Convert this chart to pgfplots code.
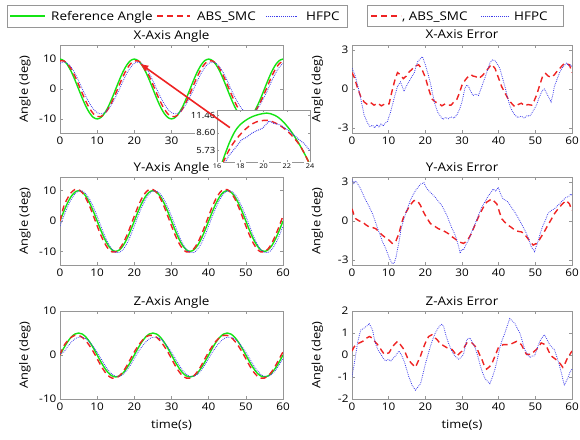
\documentclass[border=0pt]{standalone}
\usepackage{pgfplots}
\usepackage{pgfplotstable}
\pgfplotsset{compat=1.18}
\usetikzlibrary{arrows.meta}
\usepackage{fontspec}
\setmainfont{Open Sans}[FakeStretch=1.12]

\definecolor{refgreen}{RGB}{20,228,20}
\definecolor{smcred}{RGB}{238,35,35}
\definecolor{hfpcblue}{RGB}{60,60,235}
\definecolor{boxgray}{RGB}{150,150,150}

% Tracking angles (deg), sampled every second
\pgfplotstableread{
t ref smc hfpc
0 10 9.39 8.56
1 9.51 9.39 9.00
2 8.09 8.46 8.56
3 5.88 6.72 7.28
4 3.09 4.31 5.29
5 0 1.48 2.78
6 -3.09 -1.45 0
7 -5.88 -4.22 -2.56
8 -8.09 -6.58 -4.88
9 -9.51 -8.29 -6.71
10 -10 -9.19 -7.89
11 -9.51 -9.19 -8.30
12 -8.09 -8.29 -7.89
13 -5.88 -6.58 -6.71
14 -3.09 -4.22 -4.88
15 0 -1.45 -2.56
16 3.09 1.48 0
17 5.88 4.31 2.78
18 8.09 6.72 5.29
19 9.51 8.46 7.28
20 10 9.39 8.56
21 9.51 9.39 9.00
22 8.09 8.46 8.56
23 5.88 6.72 7.28
24 3.09 4.31 5.29
25 0 1.48 2.78
26 -3.09 -1.45 0
27 -5.88 -4.22 -2.56
28 -8.09 -6.58 -4.88
29 -9.51 -8.29 -6.71
30 -10 -9.19 -7.89
31 -9.51 -9.19 -8.30
32 -8.09 -8.29 -7.89
33 -5.88 -6.58 -6.71
34 -3.09 -4.22 -4.88
35 0 -1.45 -2.56
36 3.09 1.48 0
37 5.88 4.31 2.78
38 8.09 6.72 5.29
39 9.51 8.46 7.28
40 10 9.39 8.56
41 9.51 9.39 9.00
42 8.09 8.46 8.56
43 5.88 6.72 7.28
44 3.09 4.31 5.29
45 0 1.48 2.78
46 -3.09 -1.45 0
47 -5.88 -4.22 -2.56
48 -8.09 -6.58 -4.88
49 -9.51 -8.29 -6.71
50 -10 -9.19 -7.89
51 -9.51 -9.19 -8.30
52 -8.09 -8.29 -7.89
53 -5.88 -6.58 -6.71
54 -3.09 -4.22 -4.88
55 0 -1.45 -2.56
56 3.09 1.48 0
57 5.88 4.31 2.78
58 8.09 6.72 5.29
59 9.51 8.46 7.28
60 10 9.39 8.56
}\xang

\pgfplotstableread{
t ref smc hfpc
0 0 0 -1.64
1 3.09 4.77 1.56
2 5.88 7.42 4.54
3 8.09 9.36 7.07
4 9.51 10.37 8.91
5 10 10.37 9.88
6 9.51 9.36 9.88
7 8.09 7.42 8.91
8 5.88 4.77 7.07
9 3.09 1.64 4.54
10 0 -1.61 1.56
11 -3.09 -4.68 -1.64
12 -5.88 -7.28 -4.77
13 -8.09 -9.18 -7.42
14 -9.51 -10.18 -9.36
15 -10 -10.18 -10.37
16 -9.51 -9.18 -10.37
17 -8.09 -7.28 -9.36
18 -5.88 -4.68 -7.42
19 -3.09 -1.61 -4.77
20 0 1.64 -1.64
21 3.09 4.77 1.56
22 5.88 7.42 4.54
23 8.09 9.36 7.07
24 9.51 10.37 8.91
25 10 10.37 9.88
26 9.51 9.36 9.88
27 8.09 7.42 8.91
28 5.88 4.77 7.07
29 3.09 1.64 4.54
30 0 -1.61 1.56
31 -3.09 -4.68 -1.64
32 -5.88 -7.28 -4.77
33 -8.09 -9.18 -7.42
34 -9.51 -10.18 -9.36
35 -10 -10.18 -10.37
36 -9.51 -9.18 -10.37
37 -8.09 -7.28 -9.36
38 -5.88 -4.68 -7.42
39 -3.09 -1.61 -4.77
40 0 1.64 -1.64
41 3.09 4.77 1.56
42 5.88 7.42 4.54
43 8.09 9.36 7.07
44 9.51 10.37 8.91
45 10 10.37 9.88
46 9.51 9.36 9.88
47 8.09 7.42 8.91
48 5.88 4.77 7.07
49 3.09 1.64 4.54
50 0 -1.61 1.56
51 -3.09 -4.68 -1.64
52 -5.88 -7.28 -4.77
53 -8.09 -9.18 -7.42
54 -9.51 -10.18 -9.36
55 -10 -10.18 -10.37
56 -9.51 -9.18 -10.37
57 -8.09 -7.28 -9.36
58 -5.88 -4.68 -7.42
59 -3.09 -1.61 -4.77
60 0 1.64 -1.64
}\yang

\pgfplotstableread{
t ref smc hfpc
0 0 0 0.3
1 1.55 2.04 0.64
2 2.94 3.18 1.86
3 4.05 4.01 2.90
4 4.76 4.45 3.65
5 5 4.45 4.05
6 4.76 4.01 4.05
7 4.05 3.18 3.65
8 2.94 2.04 2.90
9 1.55 0.70 1.86
10 0 -0.83 0.64
11 -1.55 -2.41 -0.76
12 -2.94 -3.75 -2.22
13 -4.05 -4.72 -3.46
14 -4.76 -5.24 -4.37
15 -5 -5.24 -4.84
16 -4.76 -4.72 -4.84
17 -4.05 -3.75 -4.37
18 -2.94 -2.41 -3.46
19 -1.55 -0.83 -2.22
20 0 0.70 -0.76
21 1.55 2.04 0.64
22 2.94 3.18 1.86
23 4.05 4.01 2.90
24 4.76 4.45 3.65
25 5 4.45 4.05
26 4.76 4.01 4.05
27 4.05 3.18 3.65
28 2.94 2.04 2.90
29 1.55 0.70 1.86
30 0 -0.83 0.64
31 -1.55 -2.41 -0.76
32 -2.94 -3.75 -2.22
33 -4.05 -4.72 -3.46
34 -4.76 -5.24 -4.37
35 -5 -5.24 -4.84
36 -4.76 -4.72 -4.84
37 -4.05 -3.75 -4.37
38 -2.94 -2.41 -3.46
39 -1.55 -0.83 -2.22
40 0 0.70 -0.76
41 1.55 2.04 0.64
42 2.94 3.18 1.86
43 4.05 4.01 2.90
44 4.76 4.45 3.65
45 5 4.45 4.05
46 4.76 4.01 4.05
47 4.05 3.18 3.65
48 2.94 2.04 2.90
49 1.55 0.70 1.86
50 0 -0.83 0.64
51 -1.55 -2.41 -0.76
52 -2.94 -3.75 -2.22
53 -4.05 -4.72 -3.46
54 -4.76 -5.24 -4.37
55 -5 -5.24 -4.84
56 -4.76 -4.72 -4.84
57 -4.05 -3.75 -4.37
58 -2.94 -2.41 -3.46
59 -1.55 -0.83 -2.22
60 0 0.70 -0.76
}\zang

\tikzset{
  refline/.style={draw=refgreen, color=refgreen, line width=1.4pt},
  smcline/.style={draw=smcred, color=smcred, line width=1.4pt, dash pattern=on 6pt off 4pt},
  hfpcline/.style={draw=hfpcblue, color=hfpcblue, line width=0.8pt, dash pattern=on 0.8pt off 1.1pt},
  legtext/.style={anchor=base west, inner sep=0pt, font=\fontsize{12}{14}\selectfont},
}

\pgfplotsset{
  panel/.style={
    scale only axis, width=223pt, height=88pt,
    xmin=0, xmax=60, xtick={0,10,...,60},
    axis line style={boxgray}, tick style={boxgray, line width=0.4pt},
    major tick length=3pt, tick align=inside,
    /pgf/number format/assume math mode=true,
    tick label style={font=\fontsize{10.5}{12}\selectfont},
    title style={font=\fontsize{12}{14}\selectfont, at={(0.5,1)}, anchor=base, yshift=0pt},
    label style={font=\fontsize{11.5}{13}\selectfont},
    ylabel={Angle (deg)},
    y label style={at={(axis description cs:-0.157,0.5)}, anchor=center},
    x label style={at={(axis description cs:0.5,-0.30)}, anchor=center},
  },
  rpanel/.style={panel, width=220pt},
}

\begin{document}
\begin{tikzpicture}
\useasboundingbox (0,0) rectangle (580pt,-439pt);

% ---- legend frames and line samples ----
\draw[boxgray, line width=0.5pt, fill=white] (7pt,-5pt) rectangle (347pt,-27pt);
\draw[boxgray, line width=0.5pt, fill=white] (367pt,-5pt) rectangle (563pt,-26pt);
\draw[draw=refgreen, line width=1.4pt] (10pt,-16pt) -- (45pt,-16pt);
\draw[draw=smcred, line width=1.4pt, dash pattern=on 6pt off 4pt] (157pt,-16pt) -- (190pt,-16pt);
\draw[draw=hfpcblue, line width=0.8pt, dash pattern=on 0.8pt off 1.1pt] (266pt,-16pt) -- (298pt,-16pt);
\draw[draw=smcred, line width=1.4pt, dash pattern=on 6pt off 4pt] (371pt,-16pt) -- (401pt,-16pt);
\draw[draw=hfpcblue, line width=0.8pt, dash pattern=on 0.8pt off 1.1pt] (481pt,-16pt) -- (508pt,-16pt);

% ---- X axis angle ----
\begin{axis}[panel, at={(60pt,-45pt)}, anchor=north west,
  ymin=-14.7, ymax=14.7, ytick={-10,0,10},
  xticklabels={0,10,20,30,,,},
  title={X-Axis Angle}]
\addplot[refline, smooth, tension=0.5] table[x=t,y=ref]{\xang};
\addplot[smcline, smooth, tension=0.5] table[x=t,y=smc]{\xang};
\addplot[hfpcline, smooth, tension=0.5] table[x=t,y=hfpc]{\xang};
\coordinate (arrhead) at (axis cs:21.4,8.6);
\coordinate (arrtail) at (axis cs:45.7,-12.9);
\end{axis}

% ---- zoomed view of the peak near t = 20 s ----
\begin{axis}[at={(217pt,-110pt)}, anchor=north west,
  scale only axis, width=93pt, height=52pt,
  xmin=16, xmax=24, ymin=3.8, ymax=12.3,
  xtick={16,18,...,24}, ytick={5.73,8.60,11.46},
  yticklabels={5.73,8.60,11.46},
  axis line style={boxgray}, tick style={boxgray},
  major tick length=2pt, tick align=inside,
  axis background/.style={fill=white},
  /pgf/number format/assume math mode=true,
  yticklabel style={font=\fontsize{8.5}{9}\selectfont, fill=white, inner sep=1.5pt},
  xticklabel style={font=\fontsize{6.5}{7}\selectfont, fill=white, inner sep=1.5pt}]
\addplot[refline, smooth, tension=0.6] coordinates {
(16.4,3.5)(17.1,7.1)(17.8,9.5)(18.8,11.0)(19.9,11.7)(20.6,11.7)(21.4,10.9)(22.3,9.0)(23.2,6.3)(24.0,3.4)};
\addplot[smcline, smooth, tension=0.6] coordinates {
(16.5,3.6)(17.2,6.3)(18.1,8.5)(19.0,10.0)(19.7,10.5)(20.4,10.6)(21.1,10.1)(21.7,9.4)(22.4,8.2)(23.2,6.3)(23.9,3.7)};
\addplot[hfpcline, line width=1pt] coordinates {
(16.7,3.7)(17.0,4.8)(17.4,5.7)(17.7,6.4)(18.1,7.4)(18.5,7.8)(19.0,8.5)(19.4,8.9)(19.9,9.3)(20.2,9.9)(20.5,10.5)(20.9,10.1)(21.2,10.0)(21.5,9.8)(21.8,9.4)(22.1,9.0)(22.5,8.4)(22.8,7.9)(23.1,7.4)(23.5,6.8)(23.8,6.1)(24.0,5.6)};
\end{axis}

\draw[smcred, line width=1.6pt, -{Latex[length=9pt,width=7pt]}] (arrtail) -- (arrhead);

% ---- X axis error ----
\begin{axis}[rpanel, at={(352pt,-45pt)}, anchor=north west,
  ymin=-3.4, ymax=3.4, ytick={-3,0,3},
  title={X-Axis Error}]
\addplot[smcline] coordinates {
(0,1.27)(0.6,0.9)(1.5,0.1)(2.4,-0.6)(3.3,-1.0)(4.2,-1.2)(5.1,-1.05)(6,-1.25)(7,-1.1)(8,-1.3)(9,-1.15)(10.1,-1.15)(10.8,-0.3)(11.6,0.6)(12.4,1.27)(13.2,1.1)(14,0.8)(14.8,1.0)(15.5,1.3)(16.3,1.5)(17,1.75)(18.2,1.87)(19.1,1.5)(20,0.9)(20.9,0.0)(21.8,-0.77)(22.7,-1.0)(23.6,-1.1)(24.5,-1.3)(25.4,-1.15)(26.3,-1.25)(27,-1.25)(27.8,-1.0)(28.6,-0.8)(29.3,-0.3)(30,0.3)(30.9,0.7)(31.8,1.0)(32.5,1.1)(33,1.0)(33.8,0.95)(34.5,0.8)(35.4,1.0)(36.3,1.27)(37.2,1.6)(38,1.9)(39,1.6)(39.9,0.9)(40.8,0.2)(41.7,-0.3)(42.6,-0.77)(43.5,-1.1)(44.4,-1.37)(45.3,-1.2)(46.2,-1.1)(47.1,-1.3)(48,-1.2)(49,-1.25)(49.7,-0.9)(50.3,-0.5)(51.2,0.3)(52,1.0)(52.8,1.2)(53.5,1.0)(54.3,0.9)(55.2,1.1)(56,1.4)(57,1.7)(58,2.0)(59.3,1.87)(60,1.27)};
\addplot[hfpcline] coordinates {
(0,1.6)(0.5,1.3)(1,0.9)(1.7,0.1)(2.4,-0.77)(3.3,-2.0)(4.2,-2.6)(4.9,-2.9)(5.6,-2.8)(6.2,-3.0)(6.8,-2.75)(7.4,-2.95)(7.9,-2.7)(8.5,-2.85)(9.2,-2.6)(9.7,-2.5)(10,-2.2)(10.5,-1.8)(11,-1.25)(11.7,-0.5)(12.4,0.2)(13.2,0.55)(13.7,0.2)(14.2,-0.2)(14.6,0.1)(15,0.3)(16,0.8)(17,1.27)(17.5,1.8)(17.9,2.1)(18.5,2.3)(19.2,2.5)(19.6,2.2)(20,1.87)(20.7,1.2)(21.4,0.43)(22,-0.4)(22.7,-1.25)(23.4,-1.8)(24.1,-2.1)(24.8,-2.35)(25.5,-2.2)(26.3,-2.3)(27,-2.15)(27.8,-2.25)(28.6,-2.0)(29.3,-1.6)(30,-1.0)(30.8,0.07)(31.3,0.3)(31.8,0.2)(32.4,-0.2)(33,-0.5)(33.7,-0.4)(34.5,-0.5)(35.4,0.2)(36.3,0.9)(37,1.5)(37.6,2.0)(38.3,2.25)(39,2.2)(39.7,1.9)(40.3,1.6)(41,0.9)(41.7,0.2)(42.3,-0.5)(43,-1.25)(43.7,-1.7)(44.4,-2.0)(45.2,-2.2)(46.2,-2.1)(47,-2.25)(47.8,-2.05)(48.5,-2.1)(49.4,-1.7)(50.3,-1.25)(51,-0.7)(51.6,-0.3)(52.1,-0.05)(52.5,0.0)(53.2,-0.4)(53.9,-0.77)(54.3,-1.0)(54.8,-0.4)(55.2,0.2)(56,0.8)(56.6,1.27)(57.5,1.7)(58.5,2.0)(59.1,1.8)(59.7,1.87)(60,1.7)};
\end{axis}

% ---- Y axis angle ----
\begin{axis}[panel, at={(60pt,-177pt)}, anchor=north west,
  ymin=-14.5, ymax=14.5, ytick={-10,0,10},
  title={Y-Axis Angle}]
\addplot[refline, smooth, tension=0.5] table[x=t,y=ref]{\yang};
\addplot[smcline, smooth, tension=0.5] table[x=t,y=smc]{\yang};
\addplot[hfpcline, smooth, tension=0.5] table[x=t,y=hfpc]{\yang};
\end{axis}

% ---- Y axis error ----
\begin{axis}[rpanel, at={(352pt,-177pt)}, anchor=north west,
  ymin=-3.4, ymax=3.4, ytick={-3,0,3},
  title={Y-Axis Error}]
\addplot[smcline] coordinates {
(0,0.94)(0.5,0.5)(1,0.18)(2,0.0)(2.9,-0.08)(3.8,-0.3)(4.7,-0.46)(5.6,-0.5)(6.5,-0.6)(7.4,-0.85)(8.3,-1.1)(9.2,-1.3)(10.1,-1.48)(11,-1.73)(11.9,-1.6)(12.8,-0.97)(13.5,-0.2)(14.2,0.43)(15,0.8)(15.5,1.07)(16.2,1.35)(16.9,1.58)(17.8,1.58)(18.7,1.2)(19.3,0.8)(20,0.43)(20.7,0.1)(21.4,-0.2)(22.5,-0.4)(23.6,-0.6)(24.5,-0.7)(25.5,-0.84)(26.4,-1.0)(27.3,-1.22)(28.2,-1.4)(29.1,-1.6)(30.4,-1.73)(31.1,-1.6)(31.8,-1.35)(32.5,-1.0)(33.1,-0.6)(34,0.0)(34.9,0.56)(35.8,1.05)(36.7,1.45)(38.1,1.7)(39.5,1.32)(40.1,0.8)(40.8,0.18)(41.7,-0.1)(42.6,-0.33)(43.5,-0.5)(44.4,-0.71)(45.3,-0.8)(46.2,-0.84)(47,-1.0)(47.6,-1.22)(48.5,-1.55)(49.4,-1.86)(50.3,-1.73)(51,-1.5)(51.6,-1.22)(52.5,-0.8)(53.4,-0.33)(54.3,0.1)(55.2,0.56)(56.1,0.9)(57,1.2)(57.7,1.4)(58.4,1.58)(59.3,1.32)(60,0.81)};
\addplot[hfpcline] coordinates {
(0,3.2)(0.5,2.9)(1,3.1)(1.7,2.8)(2.4,2.47)(3.1,2.0)(3.8,1.58)(4.7,1.1)(5.6,0.56)(6.3,0.0)(7,-0.6)(7.7,-1.1)(8.3,-1.6)(9,-2.0)(9.7,-2.5)(10.2,-2.9)(10.6,-3.1)(11,-3.3)(11.5,-3.25)(12,-2.8)(12.4,-2.2)(12.9,-1.5)(13.3,-0.7)(14,0.0)(14.6,0.56)(15.3,1.1)(15.9,1.58)(16.6,2.0)(17.3,2.34)(18,2.6)(18.7,2.85)(19.2,2.9)(19.6,2.98)(20.2,2.6)(20.9,2.34)(21.8,2.1)(22.7,1.83)(23.6,1.5)(24.5,1.2)(25.2,0.8)(25.9,0.43)(26.6,-0.1)(27.3,-0.6)(28,-1.0)(28.6,-1.48)(29.1,-2.0)(29.5,-2.5)(29.9,-2.2)(30.4,-2.24)(31.1,-1.8)(31.8,-1.48)(32.7,-0.8)(33.6,-0.2)(34.5,0.45)(35.4,1.07)(36.3,1.5)(37.2,1.96)(37.9,2.2)(38.5,2.47)(39.2,2.3)(39.9,2.6)(40.5,2.1)(41.2,1.7)(41.9,1.6)(42.6,1.45)(43.5,1.05)(44.4,0.69)(45.3,0.25)(46.2,-0.2)(46.9,-0.6)(47.6,-0.97)(48.3,-1.5)(48.9,-2.0)(49.4,-2.2)(49.8,-2.37)(50.2,-2.0)(50.7,-1.6)(51.4,-0.9)(52.1,-0.33)(52.8,0.1)(53.4,0.56)(54.3,0.8)(55.2,0.94)(56.1,1.2)(57,1.45)(57.7,1.65)(58.4,1.83)(59.1,1.9)(59.7,2.08)(60,2.0)};
\end{axis}

% ---- Z axis angle ----
\begin{axis}[panel, at={(60pt,-311pt)}, anchor=north west,
  ymin=-10, ymax=10, ytick={-10,0,10},
  title={Z-Axis Angle}, xlabel={time(s)}]
\addplot[refline, smooth, tension=0.5] table[x=t,y=ref]{\zang};
\addplot[smcline, smooth, tension=0.5] table[x=t,y=smc]{\zang};
\addplot[hfpcline, smooth, tension=0.5] table[x=t,y=hfpc]{\zang};
\end{axis}

% ---- Z axis error ----
\begin{axis}[rpanel, at={(352pt,-311pt)}, anchor=north west,
  ymin=-2, ymax=2, ytick={-2,-1,0,1,2},
  title={Z-Axis Error}, xlabel={time(s)}]
\addplot[smcline] coordinates {
(0,0.18)(0.5,0.35)(1.1,0.47)(2,0.55)(2.9,0.62)(3.8,0.75)(4.7,0.84)(5.6,0.77)(6.3,0.6)(7,0.47)(7.9,0.25)(8.8,0.03)(10.1,0.1)(10.8,0.3)(11.5,0.47)(12.4,0.62)(13.2,0.47)(14.2,0.25)(15.1,-0.12)(15.8,-0.3)(16.4,-0.41)(17.3,-0.56)(18,-0.3)(18.7,-0.04)(19.3,0.25)(20,0.55)(20.9,0.84)(21.8,0.92)(22.5,0.8)(23.2,0.7)(23.9,0.55)(24.5,0.47)(25.2,0.4)(25.9,0.33)(27.3,0.25)(28,0.1)(28.6,-0.04)(30,0.18)(30.6,0.35)(31.3,0.55)(32.7,0.55)(33.3,0.45)(34,0.33)(34.7,0.05)(35.4,-0.19)(36,-0.45)(36.7,-0.64)(37.4,-0.55)(38.1,-0.41)(39,-0.05)(39.9,0.33)(41.2,0.47)(43,0.47)(44,0.55)(44.9,0.62)(45.5,0.55)(46.2,0.47)(47,0.2)(47.6,0.03)(48.9,0.03)(49.6,0.15)(50.3,0.25)(51,0.4)(51.6,0.55)(52.3,0.5)(53,0.4)(53.7,0.15)(54.3,-0.04)(55.2,-0.15)(56.1,-0.27)(56.8,-0.4)(57.5,-0.56)(58.2,-0.35)(58.8,-0.12)(59.5,0.05)(60,0.18)};
\addplot[hfpcline] coordinates {
(0,-1.0)(0.3,-0.7)(0.6,-0.41)(1,0.0)(1.5,0.55)(2,0.9)(2.4,1.14)(3.1,1.2)(3.8,1.29)(4.3,1.35)(4.7,1.44)(5.1,1.3)(5.6,1.14)(6,0.8)(6.5,0.47)(7.2,0.2)(7.9,0.03)(8.5,-0.15)(9.2,-0.27)(9.9,-0.2)(10.6,-0.27)(11.2,-0.15)(11.9,-0.04)(12.4,0.1)(12.8,0.18)(13.5,0.0)(14.2,-0.27)(14.9,-0.65)(15.5,-1.0)(16,-1.2)(16.4,-1.38)(16.9,-1.5)(17.3,-1.6)(18,-1.45)(18.7,-1.3)(19.3,-0.9)(20,-0.41)(20.7,0.0)(21.4,0.4)(22,0.7)(22.7,1.0)(23.4,1.2)(24.1,1.36)(24.6,1.4)(25,1.29)(25.6,0.9)(26.3,0.55)(27,0.25)(27.7,0.03)(28.4,-0.1)(29.1,-0.19)(29.8,-0.1)(30.4,0.03)(30.9,0.4)(31.3,0.7)(31.8,0.75)(32.2,0.77)(32.9,0.55)(33.6,0.33)(34.3,-0.05)(35,-0.49)(35.6,-0.8)(36.3,-1.08)(37,-1.2)(37.6,-1.3)(38.3,-1.0)(39,-0.64)(39.7,-0.15)(40.3,0.33)(41,0.7)(41.7,1.0)(42.3,1.3)(43,1.66)(43.7,1.55)(44.4,1.44)(45.1,1.2)(45.8,1.0)(46.5,0.6)(47.1,0.25)(47.8,0.05)(48.5,-0.12)(49.1,-0.05)(49.8,-0.04)(50.5,0.3)(51.2,0.62)(51.9,0.8)(52.5,0.92)(53.2,0.7)(53.9,0.47)(54.5,0.35)(55.2,0.25)(55.9,-0.1)(56.6,-0.49)(57.3,-0.95)(57.9,-1.38)(58.4,-1.2)(58.8,-1.08)(59.4,-0.8)(60,-0.64)};
\end{axis}

% ---- legend texts ----
\node[legtext] at (51pt,-20pt) {Reference Angle};
\node[legtext] at (197pt,-20pt) {ABS\_SMC};
\node[legtext] at (306pt,-20pt) {HFPC};
\node[legtext] at (402pt,-20pt) {, ABS\_SMC};
\node[legtext] at (514pt,-20pt) {HFPC};
\end{tikzpicture}
\end{document}
